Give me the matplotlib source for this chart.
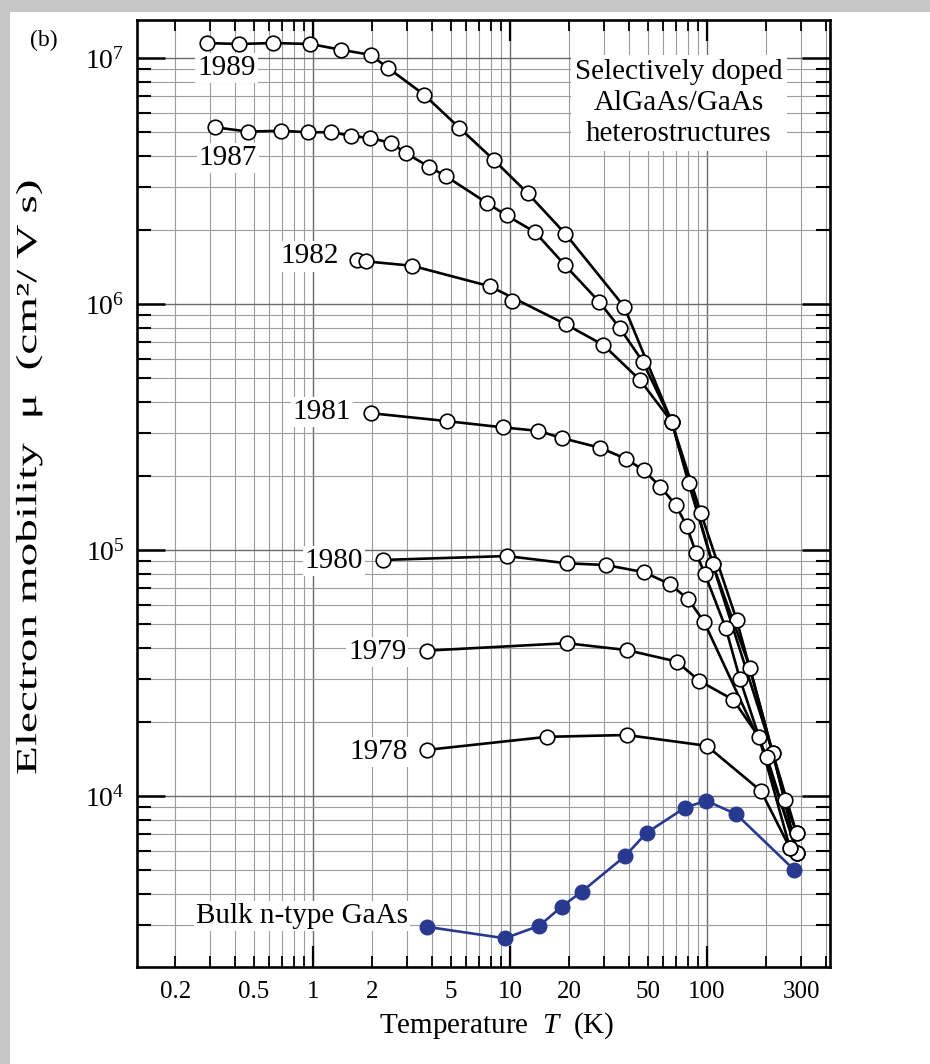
import matplotlib
matplotlib.use("Agg")
import matplotlib.pyplot as plt
import matplotlib.ticker as ticker
from matplotlib.patches import Rectangle
from matplotlib.patheffects import AbstractPathEffect
from matplotlib.transforms import Affine2D
import numpy as np

plt.rcParams['font.family'] = ['Liberation Serif', 'DejaVu Serif']
plt.rcParams['mathtext.fontset'] = 'custom'
plt.rcParams['mathtext.rm'] = 'Liberation Serif'
plt.rcParams['mathtext.it'] = 'Liberation Serif:italic'

# temperature (K) and electron mobility (cm^2/Vs)
T_1989 = [0.29, 0.42, 0.63, 0.97, 1.39, 1.96, 2.41, 3.66, 5.54, 8.29, 12.3, 19.1, 38.0,
          66.2, 80.7, 106.9, 165.3, 249, 285]
mu_1989 = [1.15e7, 1.14e7, 1.15e7, 1.14e7, 1.08e7, 1.03e7, 9.1e6, 7.1e6, 5.2e6, 3.85e6,
           2.82e6, 1.93e6, 9.75e5, 3.32e5, 1.87e5, 8.75e4, 3.32e4, 9.6e3, 7.05e3]

T_1987 = [0.318, 0.469, 0.688, 0.946, 1.24, 1.56, 1.95, 2.48, 2.97, 3.89, 4.72, 7.67, 9.62,
          13.4, 19.0, 28.4, 36.2, 47.2, 66.2, 92.9, 141.5, 215.6, 285]
mu_1987 = [5.23e6, 5.02e6, 5.06e6, 4.99e6, 4.99e6, 4.83e6, 4.72e6, 4.53e6, 4.10e6, 3.61e6,
           3.31e6, 2.57e6, 2.29e6, 1.96e6, 1.44e6, 1.02e6, 7.96e5, 5.83e5, 3.32e5, 1.42e5,
           5.19e4, 1.5e4, 7.05e3]

T_1982 = [1.67, 1.87, 3.19, 7.92, 19.2, 29.8, 45.7, 66.2, 106.9, 215.6, 287]
mu_1982 = [1.51e6, 1.49e6, 1.43e6, 1.18e6, 8.27e5, 6.81e5, 4.91e5, 3.32e5, 8.75e4, 1.5e4, 5.88e3]
T_1982_off = [10.3]
mu_1982_off = [1.03e6]

T_1981 = [1.96, 4.81, 9.25, 13.9, 18.4, 28.8, 38.7, 47.7, 57.9, 69.6, 78.9, 87.9, 97.7,
          124.4, 147.1, 287]
mu_1981 = [3.60e5, 3.34e5, 3.15e5, 3.05e5, 2.85e5, 2.60e5, 2.35e5, 2.11e5, 1.81e5, 1.52e5,
           1.25e5, 9.75e4, 7.96e4, 4.83e4, 2.98e4, 5.88e3]

T_1980 = [2.26, 9.66, 19.4, 30.7, 48.0, 64.9, 80.4, 96.6, 201, 287]
mu_1980 = [9.11e4, 9.45e4, 8.83e4, 8.69e4, 8.12e4, 7.26e4, 6.30e4, 5.11e4, 1.445e4, 5.88e3]

T_1979 = [3.8, 19.4, 39.1, 70.2, 91.4, 136, 184, 264]
mu_1979 = [3.90e4, 4.18e4, 3.92e4, 3.52e4, 2.94e4, 2.46e4, 1.73e4, 6.13e3]

T_1978 = [3.8, 15.4, 39.1, 99.7, 188, 264]
mu_1978 = [1.54e4, 1.74e4, 1.77e4, 1.60e4, 1.048e4, 6.13e3]

T_bulk = [3.78, 9.43, 14.1, 18.3, 23.1, 38.4, 49.4, 77.3, 98.8, 140.4, 277]
mu_bulk = [2.94e3, 2.64e3, 2.97e3, 3.55e3, 4.08e3, 5.70e3, 7.09e3, 8.96e3, 9.57e3, 8.45e3, 5.01e3]

hetero_labels = ['1989', '1987', '1982', '1981', '1980', '1979', '1978']
bulk_label = 'Bulk n-type GaAs'
x_tick_labels = [0.2, 0.5, 1, 2, 5, 10, 20, 50, 100, 300]

hetero = [(T_1989, mu_1989), (T_1987, mu_1987), (T_1982, mu_1982), (T_1981, mu_1981),
          (T_1980, mu_1980), (T_1979, mu_1979), (T_1978, mu_1978)]
# label offsets (points) from the first point of each curve
label_pos = [((14, -18), 'center'), ((9.5, -22), 'center'), ((-13, 2.5), 'right'),
             ((-14, 0.5), 'right'), ((-14, -1), 'right'), ((-15, -1), 'right'),
             ((-14, -1.5), 'right')]

blue = '#283a90'


class Stretch(AbstractPathEffect):
    """widen the glyphs along the baseline (the y label is spaced out in the original)"""
    def __init__(self, sx):
        super().__init__()
        self.sx = sx

    def draw_path(self, renderer, gc, tpath, affine, rgbFace=None):
        renderer.draw_path(gc, tpath, Affine2D().scale(self.sx, 1) + affine, rgbFace)


fig = plt.figure(figsize=(9.3, 10.64), dpi=100)
# grey page border
fig.patches.append(Rectangle((0, 1 - 12 / 1064), 1, 12 / 1064, transform=fig.transFigure,
                             fc='#c6c6c6', ec='none', zorder=0))
fig.patches.append(Rectangle((0, 0), 10 / 930, 1, transform=fig.transFigure,
                             fc='#c6c6c6', ec='none', zorder=0))

ax = fig.add_axes([137 / 930, 1 - 967 / 1064, 693 / 930, 947 / 1064])
ax.set_xscale('log')
ax.set_yscale('log')
ax.set_xlim(0.128, 421)
ax.set_ylim(2018, 1.427e7)

for (T, mu), lab, (off, ha) in zip(hetero, hetero_labels, label_pos):
    ax.plot(T, mu, '-', color='black', lw=1.9, zorder=4)
    ax.plot(T, mu, 'o', ms=10.5, mfc='white', mec='black', mew=1.2, zorder=5)
    ax.annotate(lab, xy=(T[0], mu[0]), xytext=off, textcoords='offset points',
                ha=ha, va='center', fontsize=21, zorder=3,
                bbox=dict(fc='white', ec='none', pad=1.5))
ax.plot(T_1982_off, mu_1982_off, 'o', ms=10.5, mfc='white', mec='black', mew=1.2, zorder=5)

ax.plot(T_bulk, mu_bulk, '-', color=blue, lw=1.9, zorder=4)
ax.plot(T_bulk, mu_bulk, 'o', ms=10.5, mfc=blue, mec=blue, zorder=5)
ax.annotate(bulk_label, xy=(T_bulk[0], mu_bulk[0]), xytext=(-13.5, 7.7),
            textcoords='offset points', ha='right', va='center', fontsize=21, zorder=3,
            bbox=dict(fc='white', ec='none', pad=1.5))

ax.text(0.782, 0.9125, 'Selectively doped\nAlGaAs/GaAs\nheterostructures',
        transform=ax.transAxes, ha='center', va='center', fontsize=21, linespacing=1.25,
        zorder=3, bbox=dict(fc='white', ec='none', pad=3))

fig.text(30 / 930, 1 - 40 / 1064, '(b)', fontsize=17, ha='left', va='center')

# ticks
def x_fmt(v, pos):
    for t in x_tick_labels:
        if np.isclose(v, t):
            return '%g' % t
    return ''

ax.xaxis.set_major_locator(ticker.LogLocator(base=10, numticks=10))
ax.xaxis.set_minor_locator(ticker.LogLocator(base=10, subs=np.arange(2, 10), numticks=30))
ax.xaxis.set_major_formatter(ticker.FuncFormatter(x_fmt))
ax.xaxis.set_minor_formatter(ticker.FuncFormatter(x_fmt))
ax.yaxis.set_major_locator(ticker.LogLocator(base=10, numticks=10))
ax.yaxis.set_minor_locator(ticker.LogLocator(base=10, subs=np.arange(2, 10), numticks=30))
ax.yaxis.set_minor_formatter(ticker.NullFormatter())

ax.tick_params(axis='x', which='both', direction='in', top=True, bottom=True,
               labelsize=18, pad=10)
ax.tick_params(axis='x', which='major', length=15, width=1.6)
ax.tick_params(axis='x', which='minor', length=8, width=1.3)
ax.tick_params(axis='y', which='both', direction='in', left=True, right=True,
               labelsize=20, pad=9)
ax.tick_params(axis='y', which='major', length=20, width=1.8)
ax.tick_params(axis='y', which='minor', length=10, width=1.5)

ax.grid(which='minor', color='#9c9c9c', lw=0.8, zorder=0)
ax.grid(which='major', color='#6a6a6a', lw=1.0, zorder=0)
ax.set_axisbelow(True)
for s in ax.spines.values():
    s.set_linewidth(1.9)

ax.set_xlabel('Temperature  $T$  (K)', fontsize=21)
ax.xaxis.set_label_coords(0.5195, -0.046)
# y label drawn from its lower end upwards
ylab = fig.text(29 / 930, 1 - 775 / 1064, 'Electron mobility  μ  (cm²/ V s)', fontsize=21,
                rotation=90, rotation_mode='anchor', ha='left', va='center')
ylab.set_path_effects([Stretch(1.62)])

fig.savefig('out.png', dpi=100, facecolor='white')
